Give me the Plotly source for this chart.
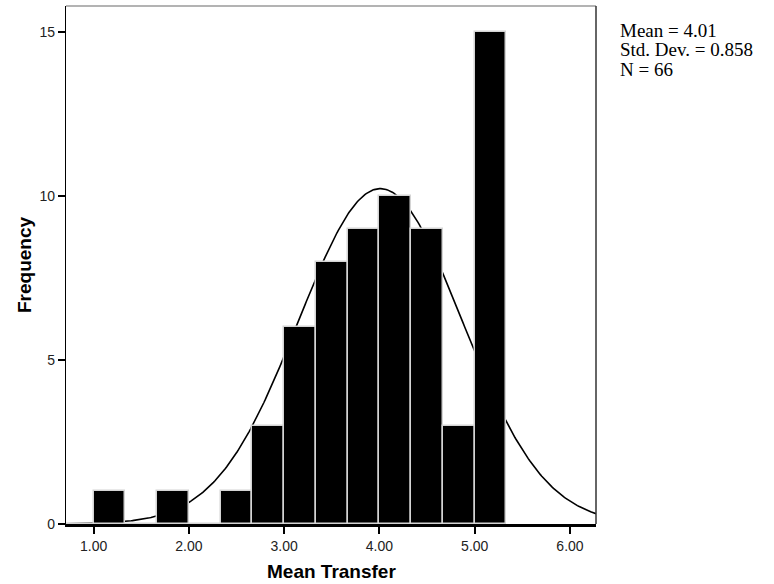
import numpy as np
import plotly.graph_objects as go

# ---- data ----
bin_start = 2.0 / 3.0
bin_width = 1.0 / 3.0
frequencies = [0, 1, 0, 1, 0, 1, 3, 6, 8, 9, 10, 9, 3, 15]
x_tick_vals = [1, 2, 3, 4, 5, 6]
x_tick_text = ["1.00", "2.00", "3.00", "4.00", "5.00", "6.00"]
y_tick_vals = [0, 5, 10, 15]
y_tick_text = ["0", "5", "10", "15"]
stat_mean = 4.01
stat_sd = 0.858
stat_n = 66
x_range = [0.71, 6.273]
y_range = [0, 15.8]

centers = [bin_start + (i + 0.5) * bin_width for i in range(len(frequencies))]

# normal curve from the stated statistics (SPSS overlay)
xs = np.linspace(x_range[0], x_range[1], 400)
ys = stat_n * bin_width / (stat_sd * np.sqrt(2 * np.pi)) * np.exp(-0.5 * ((xs - stat_mean) / stat_sd) ** 2)

fig = go.Figure()
fig.add_trace(go.Scatter(x=xs, y=ys, mode="lines",
                         line=dict(color="black", width=1.6),
                         hoverinfo="skip", showlegend=False))
fig.add_trace(go.Bar(x=centers, y=frequencies, width=bin_width,
                     marker=dict(color="black", line=dict(color="#d4d4d4", width=1.5)),
                     xaxis="x2", yaxis="y2", showlegend=False))

tickfont = dict(family="Liberation Sans, Arial, sans-serif", size=14, color="#222222")
fig.update_layout(
    width=774, height=584,
    margin=dict(l=66, r=178, t=6, b=60),
    paper_bgcolor="white", plot_bgcolor="white",
    bargap=0,
    xaxis=dict(range=x_range, tickvals=x_tick_vals, ticktext=x_tick_text,
               ticks="outside", ticklen=7, tickwidth=1.5, tickcolor="black",
               showline=True, linecolor="black", linewidth=3,
               showgrid=False, zeroline=False, tickfont=tickfont),
    yaxis=dict(range=y_range, tickvals=y_tick_vals, ticktext=y_tick_text,
               ticks="outside", ticklen=7, tickwidth=1.5, tickcolor="black",
               showline=True, linecolor="black", linewidth=1.2,
               showgrid=False, zeroline=False, tickfont=tickfont),
    xaxis2=dict(range=x_range, overlaying="x", visible=False),
    yaxis2=dict(range=y_range, overlaying="y", visible=False),
)

# frame top (grey) and right (dark) edges
fig.add_shape(type="line", xref="paper", yref="paper", x0=0, x1=1, y0=1, y1=1,
              line=dict(color="#9a9a9a", width=1.5))
fig.add_shape(type="line", xref="paper", yref="paper", x0=1, x1=1, y0=0, y1=1,
              line=dict(color="#333333", width=1.5))

titlefont = dict(family="Liberation Sans, Arial, sans-serif", size=19, color="black")
fig.add_annotation(text="<b>Mean Transfer</b>", xref="paper", yref="paper", x=0.5, y=0,
                   xanchor="center", yanchor="middle", yshift=-47, showarrow=False, font=titlefont)
fig.add_annotation(text="<b>Frequency</b>", xref="paper", yref="paper", x=0, y=0.5,
                   xanchor="center", yanchor="middle", xshift=-42, textangle=-90,
                   showarrow=False, font=titlefont)

statfont = dict(family="Liberation Serif, Times New Roman, serif", size=19, color="black")
stat_lines = ["Mean = %.2f" % stat_mean, "Std. Dev. = %.3f" % stat_sd, "N = %d" % stat_n]
for i, s in enumerate(stat_lines):
    fig.add_annotation(text=s, xref="paper", yref="paper", x=1, y=1,
                       xanchor="left", yanchor="middle", xshift=22, yshift=-(24 + 19.5 * i),
                       showarrow=False, font=statfont)

fig.write_html("out.html", config={"displayModeBar": False},
               post_script="document.body.style.margin='0px';document.body.style.overflow='hidden';")
